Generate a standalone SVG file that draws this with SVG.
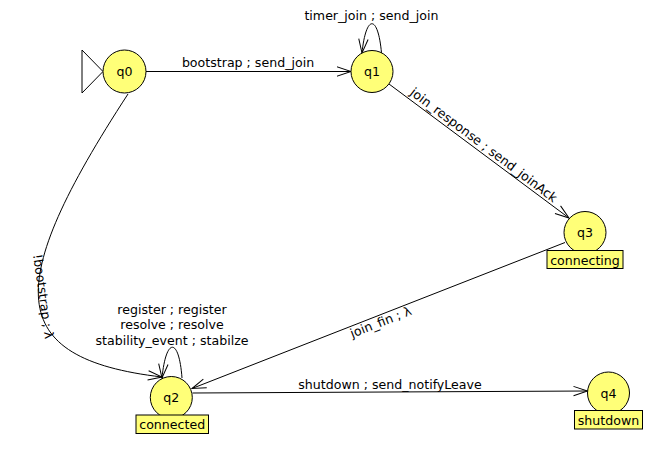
<svg xmlns="http://www.w3.org/2000/svg" width="662" height="455" viewBox="0 0 662 455">
<style>
text{font-family:"DejaVu Sans","Liberation Sans",sans-serif;font-size:12.6px;fill:#000}
.st{fill:#ffff78;stroke:#000;stroke-width:1}
.lb{fill:#ffff78;stroke:#000;stroke-width:1}
.e{fill:none;stroke:#000;stroke-width:1;marker-end:url(#ah)}
.m{text-anchor:middle}
</style>
<defs>
<marker id="ah" markerUnits="userSpaceOnUse" viewBox="-15 -6 16 12" refX="0" refY="0" markerWidth="16" markerHeight="12" orient="auto" overflow="visible">
<path d="M-14,-4.7 L0,0 L-14,4.7" fill="none" stroke="#000" stroke-width="1"/>
</marker>
</defs>
<g id="connectors">
<line class="e" x1="146" y1="71.5" x2="351" y2="71.5"/>
<path class="e" d="M381.5,53 C378,14 366,14 362,53"/>
<line class="e" x1="389" y1="84" x2="569" y2="218"/>
<line class="e" x1="565" y1="242.5" x2="192" y2="388.5"/>
<path class="e" d="M128,94 C3,285.5 3.5,358.5 162,377"/>
<path class="e" d="M182,378 C179,337 166,337 162,378"/>
<line class="e" x1="192.5" y1="393" x2="587.5" y2="391"/>
<text class="m" x="248" y="67">bootstrap ; send_join</text>
<text class="m" x="371.5" y="19.5">timer_join ; send_join</text>
<text class="m" transform="translate(478.5,152) rotate(37.1)" x="0" y="-4.5">join_response ; send_joinAck</text>
<text class="m" transform="translate(378,315) rotate(-21.4)" x="0" y="12">join_fin ; λ</text>
<text class="m" transform="translate(39,297) rotate(82)" x="0" y="0">!bootstrap ; λ</text>
<text class="m" x="390" y="389">shutdown ; send_notifyLeave</text>
<text class="m" x="172" y="313.5">register ; register</text>
<text class="m" x="172" y="329">resolve ; resolve</text>
<text class="m" x="172" y="344.5">stability_event ; stabilze</text>
</g>
<g id="q0">
<polygon points="82,50 82,93 103,71.5" fill="#fff" stroke="#000" stroke-width="1"/>
<circle class="st" cx="124.5" cy="71.5" r="21.5"/>
<text class="m" x="124.5" y="76">q0</text>
</g>
<g id="q1">
<circle class="st" cx="372" cy="71.5" r="21"/>
<text class="m" x="372" y="76">q1</text>
</g>
<g id="q3">
<circle class="st" cx="585" cy="232.5" r="21"/>
<text class="m" x="585" y="237">q3</text>
<rect class="lb" x="547" y="250.5" width="76" height="18"/>
<text class="m" x="585" y="264.5">connecting</text>
</g>
<g id="q2">
<circle class="st" cx="171.3" cy="397.5" r="21"/>
<text class="m" x="171.3" y="402">q2</text>
<rect class="lb" x="136" y="415" width="72.5" height="18.5"/>
<text class="m" x="172.2" y="429">connected</text>
</g>
<g id="q4">
<circle class="st" cx="608.5" cy="393" r="21"/>
<text class="m" x="608.5" y="397.5">q4</text>
<rect class="lb" x="574.5" y="410.5" width="68" height="18.5"/>
<text class="m" x="608.5" y="424.5">shutdown</text>
</g>
</svg>
